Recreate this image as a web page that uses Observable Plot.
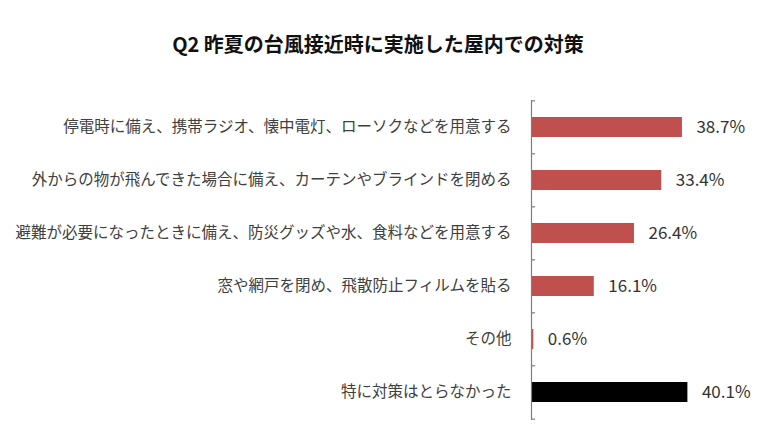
<!DOCTYPE html>
<html><head><meta charset="utf-8">
<script src="https://cdn.jsdelivr.net/npm/d3@7"></script>
<script src="https://cdn.jsdelivr.net/npm/@observablehq/plot@0.6"></script>
<style>
body{margin:0;background:#fff;font-family:"Noto Sans CJK JP",sans-serif;}
#title{height:80px;box-sizing:border-box;padding-top:31px;text-align:center;font-size:20px;font-weight:bold;color:#111;line-height:26px;padding-right:24px;}
svg{display:block;}
</style></head>
<body>
<div id="title">Q2 昨夏の台風接近時に実施した屋内での対策</div>
<div id="chart"></div>
<script>
const categories = [
  "停電時に備え、携帯ラジオ、懐中電灯、ローソクなどを用意する",
  "外からの物が飛んできた場合に備え、カーテンやブラインドを閉める",
  "避難が必要になったときに備え、防災グッズや水、食料などを用意する",
  "窓や網戸を閉め、飛散防止フィルムを貼る",
  "その他",
  "特に対策はとらなかった"
];
const values = [38.7, 33.4, 26.4, 16.1, 0.6, 40.1];
const colors = ["#C0504D", "#C0504D", "#C0504D", "#C0504D", "#C0504D", "#000000"];
const valueLabels = ["38.7%", "33.4%", "26.4%", "16.1%", "0.6%", "40.1%"];

const data = categories.map((c, i) => ({cat: c, v: values[i], color: colors[i], label: valueLabels[i]}));
const chartH = 358, mTop = 20, mBottom = 18;
const step = (chartH - mTop - mBottom) / categories.length;

const chart = Plot.plot({
  width: 780,
  height: chartH,
  marginLeft: 531,
  marginRight: 54,
  marginTop: mTop,
  marginBottom: mBottom,
  x: {domain: [0, 50], axis: null},
  y: {domain: categories, paddingInner: 0.62, paddingOuter: 0.31, axis: null},
  marks: [
    Plot.barX(data, {x: "v", y: "cat", fill: "color"}),
    Plot.ruleX([0], {stroke: "#7f7f7f", strokeWidth: 1.2}),
    Plot.ruleY(data, {y: "cat", dy: -step / 2, x1: 0, x2: 1.05, stroke: "#7f7f7f", strokeWidth: 1.2}),
    Plot.ruleY(data.slice(-1), {y: "cat", dy: step / 2, x1: 0, x2: 1.05, stroke: "#7f7f7f", strokeWidth: 1.2}),
    Plot.text(data, {x: 0, y: "cat", text: "cat", textAnchor: "end", dx: -20, fontSize: 15.5, fill: "#404040", fontFamily: "Noto Sans CJK JP"}),
    Plot.text(data, {x: "v", y: "cat", text: "label", textAnchor: "start", dx: 14, fontSize: 17, fill: "#333", fontFamily: "Noto Sans CJK JP"})
  ]
});
document.getElementById("chart").append(chart);
</script>
</body></html>
